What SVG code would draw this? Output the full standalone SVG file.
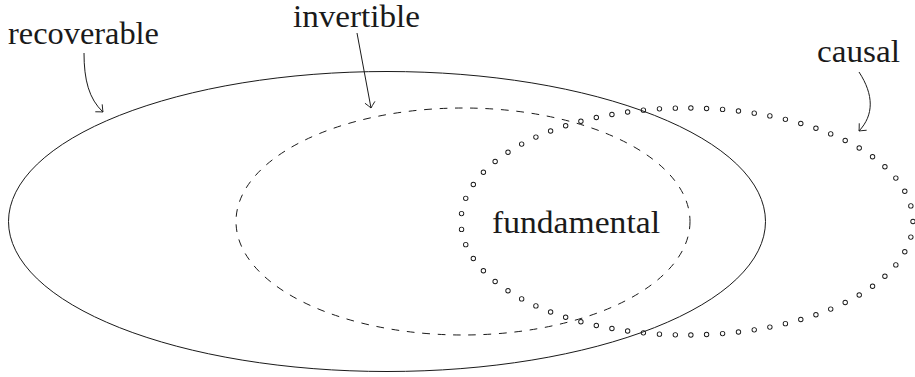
<svg xmlns="http://www.w3.org/2000/svg" width="915" height="377" viewBox="0 0 915 377">
  <style>
    .lbl { font-family: 'Liberation Serif', 'DejaVu Serif', 'Noto Serif', Tinos, 'Times New Roman', Times, serif; font-size: 31px; fill: #1a1a1a; }
    .line { fill: none; stroke: #1a1a1a; stroke-width: 1; }
    .dash { fill: none; stroke: #1a1a1a; stroke-width: 1; stroke-dasharray: 7.7 7.7; }
    .arr { fill: none; stroke: #1a1a1a; stroke-width: 1; marker-end: url(#to); }
  </style>
  <defs>
    <marker id="to" markerUnits="userSpaceOnUse" orient="auto" markerWidth="14" markerHeight="14" refX="0" refY="0" viewBox="-8 -7 10 14" overflow="visible">
      <path d="M-5.5,-4.8 Q-1.6,-1.2 0,0 Q-1.6,1.2 -5.5,4.8" fill="none" stroke="#1a1a1a" stroke-width="0.9" stroke-linecap="round"/>
    </marker>
    <mask id="rings" maskUnits="userSpaceOnUse" x="0" y="0" width="915" height="377">
      <path d="M913,221.5 A226,113.5 0 1,1 461,221.5 A226,113.5 0 1,1 913,221.5 Z" pathLength="69" fill="none" stroke="#fff" stroke-width="5.4" stroke-linecap="round" stroke-dasharray="0 1"/>
      <path d="M913,221.5 A226,113.5 0 1,1 461,221.5 A226,113.5 0 1,1 913,221.5 Z" pathLength="69" fill="none" stroke="#000" stroke-width="3.6" stroke-linecap="round" stroke-dasharray="0 1"/>
    </mask>
  </defs>

  <g id="recoverable">
    <ellipse class="line" cx="387" cy="221.5" rx="378.5" ry="150"/>
    <text class="lbl" font-family="Liberation Serif, serif" x="8" y="44" textLength="151" lengthAdjust="spacingAndGlyphs">recoverable</text>
  </g>

  <g id="invertible">
    <ellipse class="dash" cx="463" cy="221.5" rx="227" ry="113.5"/>
    <text class="lbl" font-family="Liberation Serif, serif" x="293" y="27" textLength="127" lengthAdjust="spacingAndGlyphs">invertible</text>
  </g>

  <g id="causal">
    <rect x="440" y="90" width="475" height="270" fill="#1a1a1a" mask="url(#rings)"/>
    <text class="lbl" font-family="Liberation Serif, serif" x="817" y="62" textLength="83" lengthAdjust="spacingAndGlyphs">causal</text>
  </g>

  <g id="fundamental">
    <text class="lbl" font-family="Liberation Serif, serif" x="492" y="233" textLength="168" lengthAdjust="spacingAndGlyphs">fundamental</text>
  </g>

  <g id="connectors">
    <path class="arr" d="M84,53 C84,80 89,99 103,112"/>
    <path class="arr" d="M357,33 L371,108"/>
    <path class="arr" d="M859,72 C874,95 874,115 859,131"/>
  </g>
</svg>
